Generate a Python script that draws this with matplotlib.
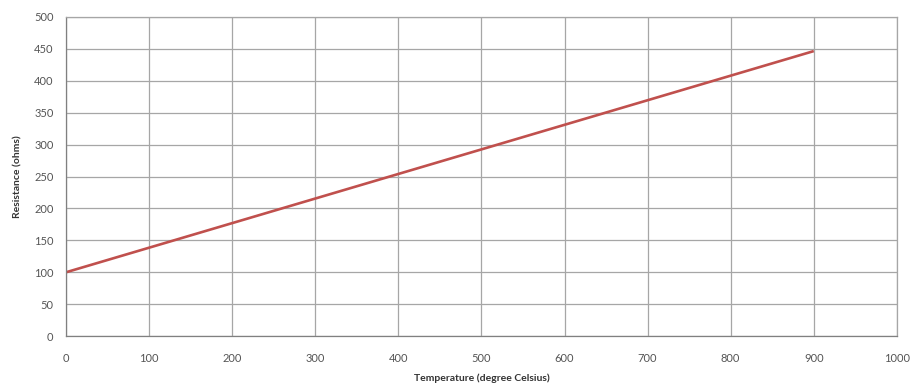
import numpy as np
import matplotlib.pyplot as plt

plt.rcParams['font.family'] = ['Lato', 'DejaVu Sans']

# values
temperature = [0, 100, 200, 300, 400, 500, 600, 700, 800, 900]
resistance = [100, 138.5, 177, 215.5, 254, 292.5, 331, 369.5, 408, 446.5]

x_ticks = list(range(0, 1001, 100))
y_ticks = list(range(0, 501, 50))

fig = plt.figure(figsize=(9.13, 3.85), dpi=100)
ax = fig.add_axes([0.0723, 0.127, 0.910, 0.829])

ax.plot(temperature, resistance, color='#c0504d', lw=1.9, solid_capstyle='butt')

ax.set_xlim(0, 1000)
ax.set_ylim(0, 500)
ax.set_xticks(x_ticks)
ax.set_yticks(y_ticks)
ax.grid(True, color='#a6a6a6', lw=0.9)
ax.set_axisbelow(True)

for s in ax.spines.values():
    s.set_color('#a6a6a6')
    s.set_linewidth(0.9)
ax.spines['left'].set_color('#808080')
ax.spines['bottom'].set_color('#808080')

ax.tick_params(axis='both', length=0, labelsize=8, labelcolor='#555555')
ax.tick_params(axis='x', pad=12)
ax.tick_params(axis='y', pad=9)

ax.set_xlabel('Temperature (degree Celsius)', fontsize=7.5, fontweight='bold',
              color='#333333', labelpad=7)
ax.set_ylabel('Resistance (ohms)', fontsize=7.5, fontweight='bold',
              color='#333333', labelpad=8)

fig.savefig('out.png', dpi=100)
